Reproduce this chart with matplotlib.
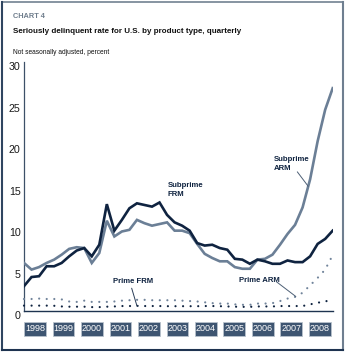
import numpy as np
import matplotlib
matplotlib.use("Agg")
import matplotlib.pyplot as plt
import matplotlib.transforms as mtransforms
from matplotlib.patches import Rectangle
from matplotlib.lines import Line2D

# ---------------- data (quarterly, 1998Q1 .. 2008Q2) ----------------
subprime_frm = [3.0, 4.1, 4.2, 5.4, 5.4, 5.8, 6.6, 7.3, 7.6, 6.6,
                8.0, 12.9, 9.7, 11.0, 12.4, 13.0, 12.8, 12.6, 13.1, 11.6,
                10.7, 10.3, 9.7, 8.2, 7.9, 8.0, 7.6, 7.4, 6.3, 6.2,
                5.7, 6.2, 6.0, 5.7, 5.7, 6.1, 5.9, 5.9, 6.6, 8.1,
                8.7, 9.7]
subprime_arm = [5.8, 5.0, 5.3, 5.8, 6.2, 6.8, 7.5, 7.7, 7.6, 5.8,
                7.0, 10.9, 9.0, 9.6, 9.8, 11.0, 10.6, 10.3, 10.5, 10.7,
                9.7, 9.7, 9.4, 8.1, 6.9, 6.4, 6.0, 6.0, 5.3, 5.1,
                5.1, 6.2, 6.3, 6.8, 8.0, 9.3, 10.4, 12.5, 15.9, 20.5,
                24.3, 26.9]
prime_arm = [1.45, 1.45, 1.5, 1.45, 1.45, 1.4, 1.15, 1.1, 1.25, 1.1,
             1.1, 1.1, 1.15, 1.25, 1.3, 1.35, 1.35, 1.3, 1.3, 1.3,
             1.3, 1.25, 1.2, 1.15, 1.05, 0.95, 0.9, 0.9, 0.8, 0.75,
             0.75, 0.9, 0.9, 0.95, 1.2, 1.5, 1.7, 2.2, 3.1, 4.0,
             5.0, 6.75]
prime_frm = [0.65, 0.65, 0.65, 0.65, 0.63, 0.55, 0.52, 0.52, 0.52, 0.47,
             0.47, 0.52, 0.55, 0.6, 0.6, 0.62, 0.6, 0.6, 0.6, 0.58,
             0.58, 0.58, 0.58, 0.58, 0.6, 0.6, 0.58, 0.55, 0.52, 0.5,
             0.5, 0.55, 0.55, 0.55, 0.6, 0.6, 0.6, 0.6, 0.8, 1.0,
             1.15, 1.4]
years = ['1998', '1999', '2000', '2001', '2002', '2003', '2004', '2005', '2006', '2007', '2008']
yticks = [0, 5, 10, 15, 20, 25, 30]

start_year = 1998
t = start_year + np.arange(len(subprime_frm)) / 4.0

# ---------------- style ----------------
NAVY = '#0f2340'
SLATE = '#6b7f96'
DOTGRAY = '#71849b'
NARROW = ['Liberation Sans Narrow', 'Liberation Sans', 'DejaVu Sans']
REG = ['Liberation Sans', 'DejaVu Sans']

W, H = 350, 354
fig = plt.figure(figsize=(W / 100, H / 100), dpi=100)

def fx(px):
    return px / W

def fy(py):
    return 1 - py / H

ax_l, ax_r, ax_t, ax_b = 24, 332.7, 62.5, 311
ax = fig.add_axes([fx(ax_l), fy(ax_b), (ax_r - ax_l) / W, (ax_b - ax_t) / H])
ax.set_xlim(t[0], t[-1])
ax.set_ylim(0, 30)
for s in ['top', 'right']:
    ax.spines[s].set_visible(False)
ax.spines['left'].set_color('#3d5068')
ax.spines['left'].set_linewidth(0.9)
ax.spines['bottom'].set_color('#1d3350')
ax.spines['bottom'].set_linewidth(1.0)
ax.set_xticks([])
ax.set_yticks(yticks)
ax.tick_params(axis='y', length=0, labelleft=False)

# y tick labels (offset slightly below their values, as in the reference)
ytrans = mtransforms.blended_transform_factory(ax.transAxes, ax.transData) + \
    mtransforms.ScaledTranslation(-3.5 / 100, -5 / 100, fig.dpi_scale_trans)
for v in yticks:
    ax.text(0, v, str(v), transform=ytrans, ha='right', va='center',
            fontsize=7.7, color='#1a1a1a', family=REG)

# ---------------- series ----------------
ax.plot(t, subprime_arm, color=SLATE, lw=1.9, solid_joinstyle='miter', zorder=3)
ax.plot(t, subprime_frm, color=NAVY, lw=1.9, solid_joinstyle='miter', zorder=4)
ax.plot(t, prime_arm, color=DOTGRAY, lw=1.6, linestyle=(0, (0.01, 3.4)),
        dash_capstyle='round', zorder=3, clip_on=False)
ax.plot(t, prime_frm, color=NAVY, lw=1.6, linestyle=(0, (0.01, 3.4)),
        dash_capstyle='round', zorder=3, clip_on=False)

# ---------------- annotations ----------------
def q(i):
    return start_year + i / 4.0

lab_kw = dict(fontsize=5.6, weight='bold', color=NAVY, family=NARROW,
              ha='left', va='top', linespacing=1.45)
ax.text(q(19.1), 15.6, 'Subprime\nFRM', **lab_kw)
ax.text(q(33.2), 18.75, 'Subprime\nARM', **lab_kw)
ax.text(q(11.85), 3.95, 'Prime FRM', **lab_kw)
ax.text(q(28.6), 4.15, 'Prime ARM', **lab_kw)

ax.annotate('', xy=(q(37.75), np.interp(q(37.75), t, subprime_arm)), xytext=(q(36.3), 16.8),
            arrowprops=dict(arrowstyle='-', color='#4d5f75', lw=0.7, shrinkA=0, shrinkB=0))
ax.annotate('', xy=(q(15), prime_frm[15]), xytext=(q(14.3), 2.75),
            arrowprops=dict(arrowstyle='-', color='#2a3d58', lw=0.7, shrinkA=0, shrinkB=0))
ax.annotate('', xy=(q(36.1), np.interp(q(36.1), t, prime_arm)), xytext=(q(33.5), 3.55),
            arrowprops=dict(arrowstyle='-', color='#4d5f75', lw=0.7, shrinkA=0, shrinkB=0))

# ---------------- year boxes ----------------
box_w, box_top, box_bot = 21.7, 322, 335.5
for k, yr in enumerate(years):
    left = 24.3 + 28.45 * k
    fig.patches.append(Rectangle((fx(left), fy(box_bot)), box_w / W, (box_bot - box_top) / H,
                                 transform=fig.transFigure, facecolor='#3e5571',
                                 edgecolor='#b9c3cd', lw=0.6))
    fig.text(fx(left + box_w / 2), fy((box_top + box_bot) / 2), yr, ha='center', va='center',
             fontsize=6.5, color='white', family=NARROW)

# ---------------- titles ----------------
fig.text(fx(13), fy(17), 'CHART 4', ha='left', va='center', fontsize=5.3,
         weight='bold', color='#6f7d8c', family=REG)
fig.text(fx(13), fy(31.5), 'Seriously delinquent rate for U.S. by product type, quarterly',
         ha='left', va='center', fontsize=5.8, weight='bold', color='#111111', family=NARROW)
fig.text(fx(13), fy(53), 'Not seasonally adjusted, percent', ha='left', va='center',
         fontsize=4.8, color='#111111', family=NARROW)

# ---------------- frame ----------------
fig.lines.append(Line2D([fx(1.5), fx(342.8)], [fy(2), fy(2)], transform=fig.transFigure,
                        color='#7d8b9a', lw=1.3))
fig.lines.append(Line2D([fx(342.8), fx(342.8)], [fy(2), fy(350)], transform=fig.transFigure,
                        color='#6f7f90', lw=1.5))
fig.lines.append(Line2D([fx(1.5), fx(1.5)], [fy(2), fy(350)], transform=fig.transFigure,
                        color='#2f4560', lw=1.5))
fig.lines.append(Line2D([fx(1.5), fx(342.8)], [fy(350), fy(350)], transform=fig.transFigure,
                        color='#1e3350', lw=1.5))

fig.savefig('out.png', dpi=100)
